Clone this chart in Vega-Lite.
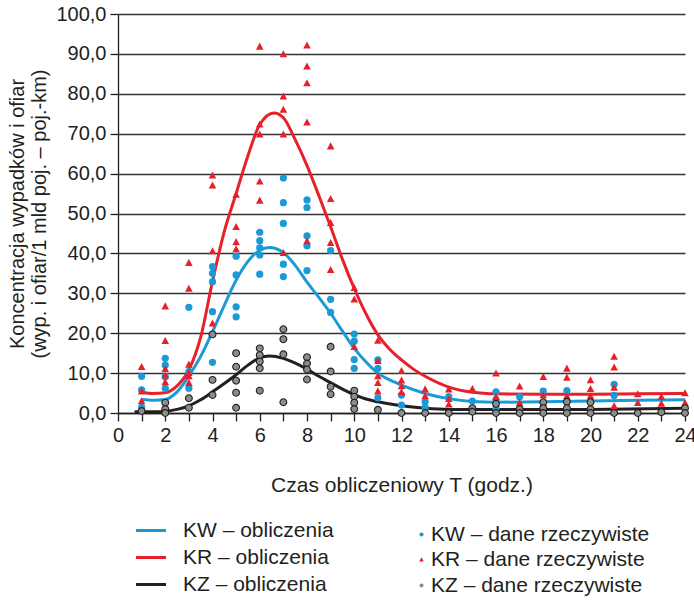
{
  "$schema": "https://vega.github.io/schema/vega-lite/v6.json",
  "width": 567,
  "height": 399,
  "autosize": {"type": "none"},
  "padding": {"left": 118, "top": 14, "right": 9, "bottom": 187},
  "background": "white",
  "config": {
    "font": "Liberation Sans",
    "view": {"stroke": null},
    "axis": {"labelFont": "Liberation Sans", "titleFont": "Liberation Sans", "labelColor": "#231f20", "titleColor": "#231f20", "titleFontWeight": "normal"},
    "legend": {"labelFont": "Liberation Sans", "labelColor": "#231f20", "labelLimit": 0}
  },
  "datasets": {
    "curves": [
      {"T": 1, "K": 3.4, "seria": "KW – obliczenia"},
      {"T": 1.5, "K": 3.2, "seria": "KW – obliczenia"},
      {"T": 2, "K": 3.4, "seria": "KW – obliczenia"},
      {"T": 2.5, "K": 5.3, "seria": "KW – obliczenia"},
      {"T": 3, "K": 9.3, "seria": "KW – obliczenia"},
      {"T": 3.5, "K": 14.2, "seria": "KW – obliczenia"},
      {"T": 4, "K": 20.4, "seria": "KW – obliczenia"},
      {"T": 4.5, "K": 27, "seria": "KW – obliczenia"},
      {"T": 5, "K": 33.3, "seria": "KW – obliczenia"},
      {"T": 5.5, "K": 38, "seria": "KW – obliczenia"},
      {"T": 6, "K": 40.8, "seria": "KW – obliczenia"},
      {"T": 6.4, "K": 41.5, "seria": "KW – obliczenia"},
      {"T": 7, "K": 40.2, "seria": "KW – obliczenia"},
      {"T": 7.5, "K": 37, "seria": "KW – obliczenia"},
      {"T": 8, "K": 32.8, "seria": "KW – obliczenia"},
      {"T": 8.5, "K": 29, "seria": "KW – obliczenia"},
      {"T": 9, "K": 25, "seria": "KW – obliczenia"},
      {"T": 9.5, "K": 20.5, "seria": "KW – obliczenia"},
      {"T": 10, "K": 16.2, "seria": "KW – obliczenia"},
      {"T": 10.5, "K": 12.8, "seria": "KW – obliczenia"},
      {"T": 11, "K": 10, "seria": "KW – obliczenia"},
      {"T": 11.5, "K": 8.3, "seria": "KW – obliczenia"},
      {"T": 12, "K": 7, "seria": "KW – obliczenia"},
      {"T": 13, "K": 4.9, "seria": "KW – obliczenia"},
      {"T": 14, "K": 3.6, "seria": "KW – obliczenia"},
      {"T": 15, "K": 2.9, "seria": "KW – obliczenia"},
      {"T": 16, "K": 2.7, "seria": "KW – obliczenia"},
      {"T": 18, "K": 2.8, "seria": "KW – obliczenia"},
      {"T": 20, "K": 3, "seria": "KW – obliczenia"},
      {"T": 22, "K": 3.2, "seria": "KW – obliczenia"},
      {"T": 24, "K": 3.3, "seria": "KW – obliczenia"},
      {"T": 1, "K": 5.2, "seria": "KR – obliczenia"},
      {"T": 1.5, "K": 4.9, "seria": "KR – obliczenia"},
      {"T": 2, "K": 5.1, "seria": "KR – obliczenia"},
      {"T": 2.5, "K": 6.8, "seria": "KR – obliczenia"},
      {"T": 3, "K": 10.8, "seria": "KR – obliczenia"},
      {"T": 3.5, "K": 19, "seria": "KR – obliczenia"},
      {"T": 4, "K": 33, "seria": "KR – obliczenia"},
      {"T": 4.5, "K": 45.5, "seria": "KR – obliczenia"},
      {"T": 5, "K": 55, "seria": "KR – obliczenia"},
      {"T": 5.5, "K": 64.5, "seria": "KR – obliczenia"},
      {"T": 6, "K": 72.3, "seria": "KR – obliczenia"},
      {"T": 6.6, "K": 75.2, "seria": "KR – obliczenia"},
      {"T": 7, "K": 74, "seria": "KR – obliczenia"},
      {"T": 7.5, "K": 68.5, "seria": "KR – obliczenia"},
      {"T": 8, "K": 62, "seria": "KR – obliczenia"},
      {"T": 8.5, "K": 54.5, "seria": "KR – obliczenia"},
      {"T": 9, "K": 46.7, "seria": "KR – obliczenia"},
      {"T": 9.5, "K": 38.5, "seria": "KR – obliczenia"},
      {"T": 10, "K": 31.2, "seria": "KR – obliczenia"},
      {"T": 10.5, "K": 24.8, "seria": "KR – obliczenia"},
      {"T": 11, "K": 19.6, "seria": "KR – obliczenia"},
      {"T": 11.5, "K": 16, "seria": "KR – obliczenia"},
      {"T": 12, "K": 13.3, "seria": "KR – obliczenia"},
      {"T": 12.5, "K": 11, "seria": "KR – obliczenia"},
      {"T": 13, "K": 9.2, "seria": "KR – obliczenia"},
      {"T": 14, "K": 6.5, "seria": "KR – obliczenia"},
      {"T": 15, "K": 5.2, "seria": "KR – obliczenia"},
      {"T": 16, "K": 4.8, "seria": "KR – obliczenia"},
      {"T": 18, "K": 4.7, "seria": "KR – obliczenia"},
      {"T": 20, "K": 4.7, "seria": "KR – obliczenia"},
      {"T": 22, "K": 4.8, "seria": "KR – obliczenia"},
      {"T": 24, "K": 4.9, "seria": "KR – obliczenia"},
      {"T": 0.7, "K": 0.3, "seria": "KZ – obliczenia"},
      {"T": 1, "K": 0.3, "seria": "KZ – obliczenia"},
      {"T": 1.5, "K": 0.3, "seria": "KZ – obliczenia"},
      {"T": 2, "K": 0.4, "seria": "KZ – obliczenia"},
      {"T": 2.5, "K": 0.9, "seria": "KZ – obliczenia"},
      {"T": 3, "K": 1.8, "seria": "KZ – obliczenia"},
      {"T": 3.5, "K": 3.3, "seria": "KZ – obliczenia"},
      {"T": 4, "K": 5.3, "seria": "KZ – obliczenia"},
      {"T": 4.5, "K": 7.4, "seria": "KZ – obliczenia"},
      {"T": 5, "K": 9.6, "seria": "KZ – obliczenia"},
      {"T": 5.5, "K": 12, "seria": "KZ – obliczenia"},
      {"T": 6, "K": 13.8, "seria": "KZ – obliczenia"},
      {"T": 6.4, "K": 14.3, "seria": "KZ – obliczenia"},
      {"T": 7, "K": 13.7, "seria": "KZ – obliczenia"},
      {"T": 7.5, "K": 12.5, "seria": "KZ – obliczenia"},
      {"T": 8, "K": 11, "seria": "KZ – obliczenia"},
      {"T": 8.5, "K": 9.2, "seria": "KZ – obliczenia"},
      {"T": 9, "K": 7.6, "seria": "KZ – obliczenia"},
      {"T": 9.5, "K": 6, "seria": "KZ – obliczenia"},
      {"T": 10, "K": 4.6, "seria": "KZ – obliczenia"},
      {"T": 10.5, "K": 3.5, "seria": "KZ – obliczenia"},
      {"T": 11, "K": 2.8, "seria": "KZ – obliczenia"},
      {"T": 12, "K": 1.8, "seria": "KZ – obliczenia"},
      {"T": 13, "K": 1.2, "seria": "KZ – obliczenia"},
      {"T": 14, "K": 0.9, "seria": "KZ – obliczenia"},
      {"T": 16, "K": 0.85, "seria": "KZ – obliczenia"},
      {"T": 20, "K": 0.9, "seria": "KZ – obliczenia"},
      {"T": 24, "K": 1.2, "seria": "KZ – obliczenia"}
    ],
    "points": [
      {"T": 1, "K": 9.2, "seria": "KW – dane rzeczywiste"},
      {"T": 1, "K": 5.8, "seria": "KW – dane rzeczywiste"},
      {"T": 1, "K": 1.4, "seria": "KW – dane rzeczywiste"},
      {"T": 2, "K": 13.7, "seria": "KW – dane rzeczywiste"},
      {"T": 2, "K": 12.0, "seria": "KW – dane rzeczywiste"},
      {"T": 2, "K": 9.1, "seria": "KW – dane rzeczywiste"},
      {"T": 2, "K": 6.2, "seria": "KW – dane rzeczywiste"},
      {"T": 3, "K": 26.5, "seria": "KW – dane rzeczywiste"},
      {"T": 3, "K": 10.4, "seria": "KW – dane rzeczywiste"},
      {"T": 3, "K": 6.2, "seria": "KW – dane rzeczywiste"},
      {"T": 4, "K": 36.7, "seria": "KW – dane rzeczywiste"},
      {"T": 4, "K": 35.0, "seria": "KW – dane rzeczywiste"},
      {"T": 4, "K": 32.9, "seria": "KW – dane rzeczywiste"},
      {"T": 4, "K": 25.4, "seria": "KW – dane rzeczywiste"},
      {"T": 4, "K": 12.7, "seria": "KW – dane rzeczywiste"},
      {"T": 5, "K": 39.3, "seria": "KW – dane rzeczywiste"},
      {"T": 5, "K": 34.6, "seria": "KW – dane rzeczywiste"},
      {"T": 5, "K": 26.6, "seria": "KW – dane rzeczywiste"},
      {"T": 5, "K": 24.1, "seria": "KW – dane rzeczywiste"},
      {"T": 6, "K": 45.3, "seria": "KW – dane rzeczywiste"},
      {"T": 6, "K": 43.2, "seria": "KW – dane rzeczywiste"},
      {"T": 6, "K": 41.4, "seria": "KW – dane rzeczywiste"},
      {"T": 6, "K": 39.6, "seria": "KW – dane rzeczywiste"},
      {"T": 6, "K": 34.8, "seria": "KW – dane rzeczywiste"},
      {"T": 7, "K": 58.9, "seria": "KW – dane rzeczywiste"},
      {"T": 7, "K": 52.7, "seria": "KW – dane rzeczywiste"},
      {"T": 7, "K": 47.5, "seria": "KW – dane rzeczywiste"},
      {"T": 7, "K": 37.3, "seria": "KW – dane rzeczywiste"},
      {"T": 7, "K": 34.2, "seria": "KW – dane rzeczywiste"},
      {"T": 8, "K": 53.4, "seria": "KW – dane rzeczywiste"},
      {"T": 8, "K": 51.5, "seria": "KW – dane rzeczywiste"},
      {"T": 8, "K": 44.4, "seria": "KW – dane rzeczywiste"},
      {"T": 8, "K": 41.9, "seria": "KW – dane rzeczywiste"},
      {"T": 8, "K": 35.7, "seria": "KW – dane rzeczywiste"},
      {"T": 9, "K": 40.7, "seria": "KW – dane rzeczywiste"},
      {"T": 9, "K": 28.5, "seria": "KW – dane rzeczywiste"},
      {"T": 9, "K": 25.2, "seria": "KW – dane rzeczywiste"},
      {"T": 10, "K": 19.8, "seria": "KW – dane rzeczywiste"},
      {"T": 10, "K": 18.0, "seria": "KW – dane rzeczywiste"},
      {"T": 10, "K": 13.4, "seria": "KW – dane rzeczywiste"},
      {"T": 10, "K": 11.2, "seria": "KW – dane rzeczywiste"},
      {"T": 11, "K": 13.3, "seria": "KW – dane rzeczywiste"},
      {"T": 11, "K": 11.2, "seria": "KW – dane rzeczywiste"},
      {"T": 11, "K": 3.8, "seria": "KW – dane rzeczywiste"},
      {"T": 12, "K": 4.5, "seria": "KW – dane rzeczywiste"},
      {"T": 12, "K": 2.0, "seria": "KW – dane rzeczywiste"},
      {"T": 13, "K": 2.8, "seria": "KW – dane rzeczywiste"},
      {"T": 13, "K": 1.4, "seria": "KW – dane rzeczywiste"},
      {"T": 14, "K": 4.1, "seria": "KW – dane rzeczywiste"},
      {"T": 15, "K": 3.0, "seria": "KW – dane rzeczywiste"},
      {"T": 16, "K": 5.3, "seria": "KW – dane rzeczywiste"},
      {"T": 16, "K": 3.3, "seria": "KW – dane rzeczywiste"},
      {"T": 16, "K": 1.2, "seria": "KW – dane rzeczywiste"},
      {"T": 17, "K": 4.1, "seria": "KW – dane rzeczywiste"},
      {"T": 18, "K": 5.5, "seria": "KW – dane rzeczywiste"},
      {"T": 19, "K": 5.6, "seria": "KW – dane rzeczywiste"},
      {"T": 21, "K": 7.2, "seria": "KW – dane rzeczywiste"},
      {"T": 21, "K": 4.4, "seria": "KW – dane rzeczywiste"},
      {"T": 1, "K": 11.4, "seria": "KR – dane rzeczywiste"},
      {"T": 1, "K": 5.3, "seria": "KR – dane rzeczywiste"},
      {"T": 1, "K": 2.8, "seria": "KR – dane rzeczywiste"},
      {"T": 2, "K": 26.6, "seria": "KR – dane rzeczywiste"},
      {"T": 2, "K": 17.9, "seria": "KR – dane rzeczywiste"},
      {"T": 2, "K": 10.9, "seria": "KR – dane rzeczywiste"},
      {"T": 2, "K": 9.3, "seria": "KR – dane rzeczywiste"},
      {"T": 2, "K": 7.6, "seria": "KR – dane rzeczywiste"},
      {"T": 3, "K": 37.5, "seria": "KR – dane rzeczywiste"},
      {"T": 3, "K": 31.0, "seria": "KR – dane rzeczywiste"},
      {"T": 3, "K": 12.0, "seria": "KR – dane rzeczywiste"},
      {"T": 3, "K": 9.9, "seria": "KR – dane rzeczywiste"},
      {"T": 3, "K": 9.1, "seria": "KR – dane rzeczywiste"},
      {"T": 3, "K": 7.4, "seria": "KR – dane rzeczywiste"},
      {"T": 4, "K": 59.4, "seria": "KR – dane rzeczywiste"},
      {"T": 4, "K": 56.9, "seria": "KR – dane rzeczywiste"},
      {"T": 4, "K": 40.4, "seria": "KR – dane rzeczywiste"},
      {"T": 4, "K": 22.3, "seria": "KR – dane rzeczywiste"},
      {"T": 5, "K": 54.6, "seria": "KR – dane rzeczywiste"},
      {"T": 5, "K": 46.5, "seria": "KR – dane rzeczywiste"},
      {"T": 5, "K": 42.7, "seria": "KR – dane rzeczywiste"},
      {"T": 5, "K": 40.9, "seria": "KR – dane rzeczywiste"},
      {"T": 6, "K": 91.7, "seria": "KR – dane rzeczywiste"},
      {"T": 6, "K": 72.2, "seria": "KR – dane rzeczywiste"},
      {"T": 6, "K": 69.7, "seria": "KR – dane rzeczywiste"},
      {"T": 6, "K": 57.9, "seria": "KR – dane rzeczywiste"},
      {"T": 6, "K": 53.1, "seria": "KR – dane rzeczywiste"},
      {"T": 7, "K": 89.8, "seria": "KR – dane rzeczywiste"},
      {"T": 7, "K": 79.2, "seria": "KR – dane rzeczywiste"},
      {"T": 7, "K": 75.9, "seria": "KR – dane rzeczywiste"},
      {"T": 7, "K": 69.7, "seria": "KR – dane rzeczywiste"},
      {"T": 7, "K": 40.0, "seria": "KR – dane rzeczywiste"},
      {"T": 8, "K": 92.0, "seria": "KR – dane rzeczywiste"},
      {"T": 8, "K": 86.7, "seria": "KR – dane rzeczywiste"},
      {"T": 8, "K": 82.5, "seria": "KR – dane rzeczywiste"},
      {"T": 8, "K": 72.7, "seria": "KR – dane rzeczywiste"},
      {"T": 8, "K": 42.9, "seria": "KR – dane rzeczywiste"},
      {"T": 9, "K": 66.7, "seria": "KR – dane rzeczywiste"},
      {"T": 9, "K": 53.5, "seria": "KR – dane rzeczywiste"},
      {"T": 9, "K": 47.5, "seria": "KR – dane rzeczywiste"},
      {"T": 9, "K": 42.5, "seria": "KR – dane rzeczywiste"},
      {"T": 9, "K": 35.7, "seria": "KR – dane rzeczywiste"},
      {"T": 10, "K": 31.2, "seria": "KR – dane rzeczywiste"},
      {"T": 10, "K": 28.3, "seria": "KR – dane rzeczywiste"},
      {"T": 10, "K": 16.4, "seria": "KR – dane rzeczywiste"},
      {"T": 11, "K": 18.0, "seria": "KR – dane rzeczywiste"},
      {"T": 11, "K": 12.9, "seria": "KR – dane rzeczywiste"},
      {"T": 11, "K": 9.1, "seria": "KR – dane rzeczywiste"},
      {"T": 11, "K": 7.4, "seria": "KR – dane rzeczywiste"},
      {"T": 11, "K": 5.3, "seria": "KR – dane rzeczywiste"},
      {"T": 12, "K": 10.4, "seria": "KR – dane rzeczywiste"},
      {"T": 12, "K": 8.0, "seria": "KR – dane rzeczywiste"},
      {"T": 12, "K": 6.6, "seria": "KR – dane rzeczywiste"},
      {"T": 12, "K": 5.1, "seria": "KR – dane rzeczywiste"},
      {"T": 13, "K": 5.8, "seria": "KR – dane rzeczywiste"},
      {"T": 13, "K": 4.1, "seria": "KR – dane rzeczywiste"},
      {"T": 14, "K": 5.8, "seria": "KR – dane rzeczywiste"},
      {"T": 14, "K": 3.4, "seria": "KR – dane rzeczywiste"},
      {"T": 14, "K": 2.0, "seria": "KR – dane rzeczywiste"},
      {"T": 15, "K": 5.9, "seria": "KR – dane rzeczywiste"},
      {"T": 16, "K": 9.8, "seria": "KR – dane rzeczywiste"},
      {"T": 16, "K": 3.9, "seria": "KR – dane rzeczywiste"},
      {"T": 17, "K": 6.5, "seria": "KR – dane rzeczywiste"},
      {"T": 17, "K": 2.4, "seria": "KR – dane rzeczywiste"},
      {"T": 18, "K": 8.9, "seria": "KR – dane rzeczywiste"},
      {"T": 18, "K": 4.3, "seria": "KR – dane rzeczywiste"},
      {"T": 18, "K": 2.4, "seria": "KR – dane rzeczywiste"},
      {"T": 19, "K": 11.0, "seria": "KR – dane rzeczywiste"},
      {"T": 19, "K": 8.7, "seria": "KR – dane rzeczywiste"},
      {"T": 19, "K": 4.1, "seria": "KR – dane rzeczywiste"},
      {"T": 20, "K": 8.1, "seria": "KR – dane rzeczywiste"},
      {"T": 20, "K": 5.9, "seria": "KR – dane rzeczywiste"},
      {"T": 20, "K": 4.1, "seria": "KR – dane rzeczywiste"},
      {"T": 21, "K": 14.0, "seria": "KR – dane rzeczywiste"},
      {"T": 21, "K": 11.3, "seria": "KR – dane rzeczywiste"},
      {"T": 21, "K": 6.2, "seria": "KR – dane rzeczywiste"},
      {"T": 21, "K": 1.6, "seria": "KR – dane rzeczywiste"},
      {"T": 22, "K": 4.6, "seria": "KR – dane rzeczywiste"},
      {"T": 22, "K": 2.4, "seria": "KR – dane rzeczywiste"},
      {"T": 23, "K": 3.9, "seria": "KR – dane rzeczywiste"},
      {"T": 23, "K": 2.2, "seria": "KR – dane rzeczywiste"},
      {"T": 24, "K": 4.8, "seria": "KR – dane rzeczywiste"},
      {"T": 24, "K": 2.4, "seria": "KR – dane rzeczywiste"},
      {"T": 1, "K": 0.5, "seria": "KZ – dane rzeczywiste"},
      {"T": 2, "K": 2.6, "seria": "KZ – dane rzeczywiste"},
      {"T": 2, "K": 1.0, "seria": "KZ – dane rzeczywiste"},
      {"T": 2, "K": 0.0, "seria": "KZ – dane rzeczywiste"},
      {"T": 3, "K": 3.7, "seria": "KZ – dane rzeczywiste"},
      {"T": 3, "K": 1.3, "seria": "KZ – dane rzeczywiste"},
      {"T": 4, "K": 19.7, "seria": "KZ – dane rzeczywiste"},
      {"T": 4, "K": 8.3, "seria": "KZ – dane rzeczywiste"},
      {"T": 4, "K": 4.5, "seria": "KZ – dane rzeczywiste"},
      {"T": 5, "K": 15.0, "seria": "KZ – dane rzeczywiste"},
      {"T": 5, "K": 11.6, "seria": "KZ – dane rzeczywiste"},
      {"T": 5, "K": 8.1, "seria": "KZ – dane rzeczywiste"},
      {"T": 5, "K": 5.1, "seria": "KZ – dane rzeczywiste"},
      {"T": 5, "K": 1.3, "seria": "KZ – dane rzeczywiste"},
      {"T": 6, "K": 16.2, "seria": "KZ – dane rzeczywiste"},
      {"T": 6, "K": 14.5, "seria": "KZ – dane rzeczywiste"},
      {"T": 6, "K": 12.9, "seria": "KZ – dane rzeczywiste"},
      {"T": 6, "K": 11.2, "seria": "KZ – dane rzeczywiste"},
      {"T": 6, "K": 5.6, "seria": "KZ – dane rzeczywiste"},
      {"T": 7, "K": 21.0, "seria": "KZ – dane rzeczywiste"},
      {"T": 7, "K": 18.5, "seria": "KZ – dane rzeczywiste"},
      {"T": 7, "K": 14.7, "seria": "KZ – dane rzeczywiste"},
      {"T": 7, "K": 2.7, "seria": "KZ – dane rzeczywiste"},
      {"T": 8, "K": 14.0, "seria": "KZ – dane rzeczywiste"},
      {"T": 8, "K": 12.4, "seria": "KZ – dane rzeczywiste"},
      {"T": 8, "K": 10.9, "seria": "KZ – dane rzeczywiste"},
      {"T": 8, "K": 8.4, "seria": "KZ – dane rzeczywiste"},
      {"T": 9, "K": 16.6, "seria": "KZ – dane rzeczywiste"},
      {"T": 9, "K": 10.4, "seria": "KZ – dane rzeczywiste"},
      {"T": 9, "K": 6.6, "seria": "KZ – dane rzeczywiste"},
      {"T": 9, "K": 4.7, "seria": "KZ – dane rzeczywiste"},
      {"T": 10, "K": 5.6, "seria": "KZ – dane rzeczywiste"},
      {"T": 10, "K": 4.1, "seria": "KZ – dane rzeczywiste"},
      {"T": 10, "K": 2.6, "seria": "KZ – dane rzeczywiste"},
      {"T": 10, "K": 1.0, "seria": "KZ – dane rzeczywiste"},
      {"T": 11, "K": 0.8, "seria": "KZ – dane rzeczywiste"},
      {"T": 12, "K": 0.0, "seria": "KZ – dane rzeczywiste"},
      {"T": 13, "K": 0.0, "seria": "KZ – dane rzeczywiste"},
      {"T": 14, "K": 0.0, "seria": "KZ – dane rzeczywiste"},
      {"T": 15, "K": 1.2, "seria": "KZ – dane rzeczywiste"},
      {"T": 15, "K": 0.3, "seria": "KZ – dane rzeczywiste"},
      {"T": 16, "K": 2.3, "seria": "KZ – dane rzeczywiste"},
      {"T": 16, "K": 0.0, "seria": "KZ – dane rzeczywiste"},
      {"T": 17, "K": 1.0, "seria": "KZ – dane rzeczywiste"},
      {"T": 17, "K": 0.0, "seria": "KZ – dane rzeczywiste"},
      {"T": 18, "K": 2.7, "seria": "KZ – dane rzeczywiste"},
      {"T": 18, "K": 1.2, "seria": "KZ – dane rzeczywiste"},
      {"T": 18, "K": 0.0, "seria": "KZ – dane rzeczywiste"},
      {"T": 19, "K": 2.8, "seria": "KZ – dane rzeczywiste"},
      {"T": 19, "K": 1.2, "seria": "KZ – dane rzeczywiste"},
      {"T": 19, "K": 0.0, "seria": "KZ – dane rzeczywiste"},
      {"T": 20, "K": 2.7, "seria": "KZ – dane rzeczywiste"},
      {"T": 20, "K": 1.0, "seria": "KZ – dane rzeczywiste"},
      {"T": 20, "K": 0.0, "seria": "KZ – dane rzeczywiste"},
      {"T": 21, "K": 0.0, "seria": "KZ – dane rzeczywiste"},
      {"T": 22, "K": 0.0, "seria": "KZ – dane rzeczywiste"},
      {"T": 23, "K": 0.2, "seria": "KZ – dane rzeczywiste"},
      {"T": 24, "K": 1.2, "seria": "KZ – dane rzeczywiste"},
      {"T": 24, "K": 0.0, "seria": "KZ – dane rzeczywiste"}
    ]
  },
  "encoding": {
    "x": {
      "field": "T", "type": "quantitative",
      "scale": {"domain": [0, 24], "nice": false},
      "axis": {
        "values": [0,1,2,3,4,5,6,7,8,9,10,11,12,13,14,15,16,17,18,19,20,21,22,23,24],
        "labelExpr": "datum.value % 2 == 0 ? datum.label : ''",
        "grid": false, "domainColor": "#231f20", "domainWidth": 1.3,
        "tickColor": "#231f20", "tickWidth": 1.3, "tickSize": 8,
        "labelFontSize": 20, "labelPadding": 4, "labelFlush": false, "labelOverlap": false,
        "title": "Czas obliczeniowy T (godz.)", "titleFontSize": 21, "titlePadding": 29
      }
    },
    "y": {
      "field": "K", "type": "quantitative",
      "scale": {"domain": [0, 100], "nice": false},
      "axis": {
        "values": [0,10,20,30,40,50,60,70,80,90,100],
        "labelExpr": "replace(format(datum.value, '.1f'), '.', ',')",
        "grid": true, "gridColor": "#333333", "gridWidth": 1.5,
        "domainColor": "#231f20", "domainWidth": 1.3,
        "tickColor": "#231f20", "tickWidth": 1.3, "tickSize": 8,
        "labelFontSize": 20, "labelPadding": 4, "labelFlush": false,
        "title": ["Koncentracja wypadków i ofiar", "(wyp. i ofiar/1 mld poj. – poj.-km)"],
        "titleFontSize": 20, "titleLineHeight": 22,
        "titleAngle": -90, "titleAlign": "center", "titleBaseline": "middle",
        "titleX": -101, "titleY": 199.5
      }
    }
  },
  "layer": [
    {
      "data": {"name": "curves"},
      "mark": {"type": "line", "strokeWidth": 3, "interpolate": "monotone"},
      "encoding": {
        "stroke": {
          "field": "seria", "type": "nominal",
          "scale": {"domain": ["KW – obliczenia", "KR – obliczenia", "KZ – obliczenia"], "range": ["#1b9ad6", "#e8202a", "#231f20"]},
          "legend": {
            "title": null, "orient": "none", "legendX": 16.5, "legendY": 500,
            "symbolType": "stroke", "symbolSize": 900, "symbolStrokeWidth": 3,
            "labelFontSize": 21, "labelOffset": 15.5, "rowPadding": -2.5, "padding": 0
          }
        }
      }
    },
    {
      "data": {"name": "points"},
      "mark": {"type": "point", "filled": true, "size": 52, "strokeWidth": 1.1, "opacity": 1},
      "encoding": {
        "fill": {
          "field": "seria", "type": "nominal",
          "scale": {"domain": ["KW – dane rzeczywiste", "KR – dane rzeczywiste", "KZ – dane rzeczywiste"], "range": ["#1b9ad6", "#e8202a", "#8c8c8c"]},
          "legend": {
            "title": null, "orient": "none", "legendX": 293, "legendY": 510,
            "symbolSize": 18, "labelFontSize": 21, "labelOffset": -1, "rowPadding": 3.5, "padding": 0
          }
        },
        "shape": {
          "field": "seria", "type": "nominal",
          "scale": {"domain": ["KW – dane rzeczywiste", "KR – dane rzeczywiste", "KZ – dane rzeczywiste"], "range": ["circle", "M0,-1.25L1.05,0.7L-1.05,0.7Z", "M-0.95,0A0.95,0.95 0 1,0 0.95,0A0.95,0.95 0 1,0 -0.95,0Z"]}
        },
        "stroke": {
          "field": "seria", "type": "nominal",
          "scale": {"domain": ["KW – dane rzeczywiste", "KR – dane rzeczywiste", "KZ – dane rzeczywiste"], "range": ["transparent", "transparent", "#231f20"]}
        }
      }
    }
  ],
  "resolve": {"scale": {"stroke": "independent"}, "legend": {"stroke": "independent"}}
}
